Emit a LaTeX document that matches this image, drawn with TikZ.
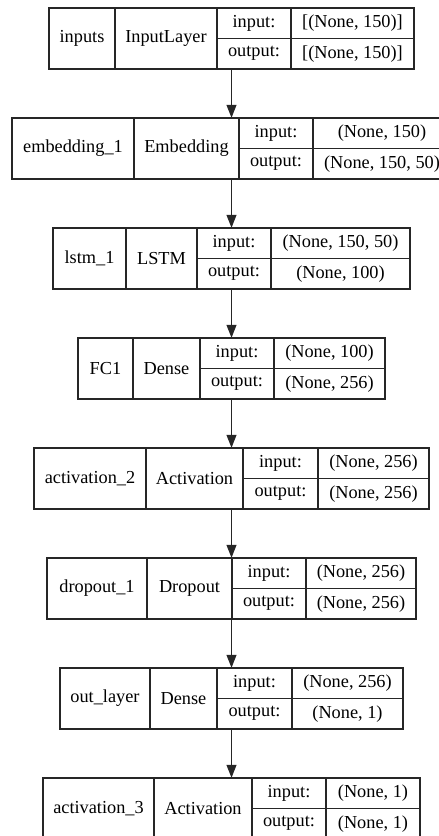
\documentclass[tikz,border=0pt]{standalone}
\usepackage{fontspec}
\setmainfont{Liberation Serif}
\usetikzlibrary{arrows.meta,positioning,fit}
\tikzstyle{cell}=[draw=black!85, line width=1.2pt, rectangle, inner sep=0pt, outer sep=0pt, minimum height=61pt]
\tikzstyle{half cell}=[cell, minimum height=30.5pt]
\tikzstyle{flow}=[draw=black!85, line width=1.2pt, -{Triangle[length=13pt,width=10pt]}]

\begin{document}
\begin{tikzpicture}[x=1pt, y=-1pt, font=\rmfamily\fontsize{18.3}{22}\selectfont]
  \clip (0,0) rectangle (439,836);
  \foreach \i/\ytop/\xa/\xb/\xc/\xd/\xe/\lname/\lclass/\ishape/\oshape in {%
      1/8/49/115/217/291/414/inputs/InputLayer/{[(None, 150)]}/{[(None, 150)]},
      2/118/12/134/239/313/451/embedding\_1/Embedding/{(None, 150)}/{(None, 150, 50)},
      3/228/53/126/197/271/410/lstm\_1/LSTM/{(None, 150, 50)}/{(None, 100)},
      4/338/78/133/200/274/385/FC1/Dense/{(None, 100)}/{(None, 256)},
      5/448/34/146/243/318/429/activation\_2/Activation/{(None, 256)}/{(None, 256)},
      6/558/47/147/232/306/416/dropout\_1/Dropout/{(None, 256)}/{(None, 256)},
      7/668/60/150/217/292/403/out\_layer/Dense/{(None, 256)}/{(None, 1)},
      8/778/43/154/252/326/420/activation\_3/Activation/{(None, 1)}/{(None, 1)}}
  {
    \node[cell, anchor=north west, minimum width=\xb-\xa] (name\i) at (\xa,\ytop) {\lname};
    \node[cell, minimum width=\xc-\xb, right=0pt of name\i] (class\i) {\lclass};
    \node[half cell, minimum width=\xd-\xc, below right=0pt of class\i.north east] (inLbl\i) {input:};
    \node[half cell, minimum width=\xe-\xd, right=0pt of inLbl\i] (inShape\i) {\ishape};
    \node[half cell, minimum width=\xd-\xc, below=0pt of inLbl\i] (outLbl\i) {output:};
    \node[half cell, minimum width=\xe-\xd, right=0pt of outLbl\i] (outShape\i) {\oshape};
    \node[fit=(name\i)(outShape\i), inner sep=0pt] (layer\i) {};
  }
  \foreach \i [evaluate=\i as \j using int(\i+1)] in {1,...,7}
    \draw[flow] (layer\i.south) -- (layer\i.south |- layer\j.north);
\end{tikzpicture}
\end{document}
